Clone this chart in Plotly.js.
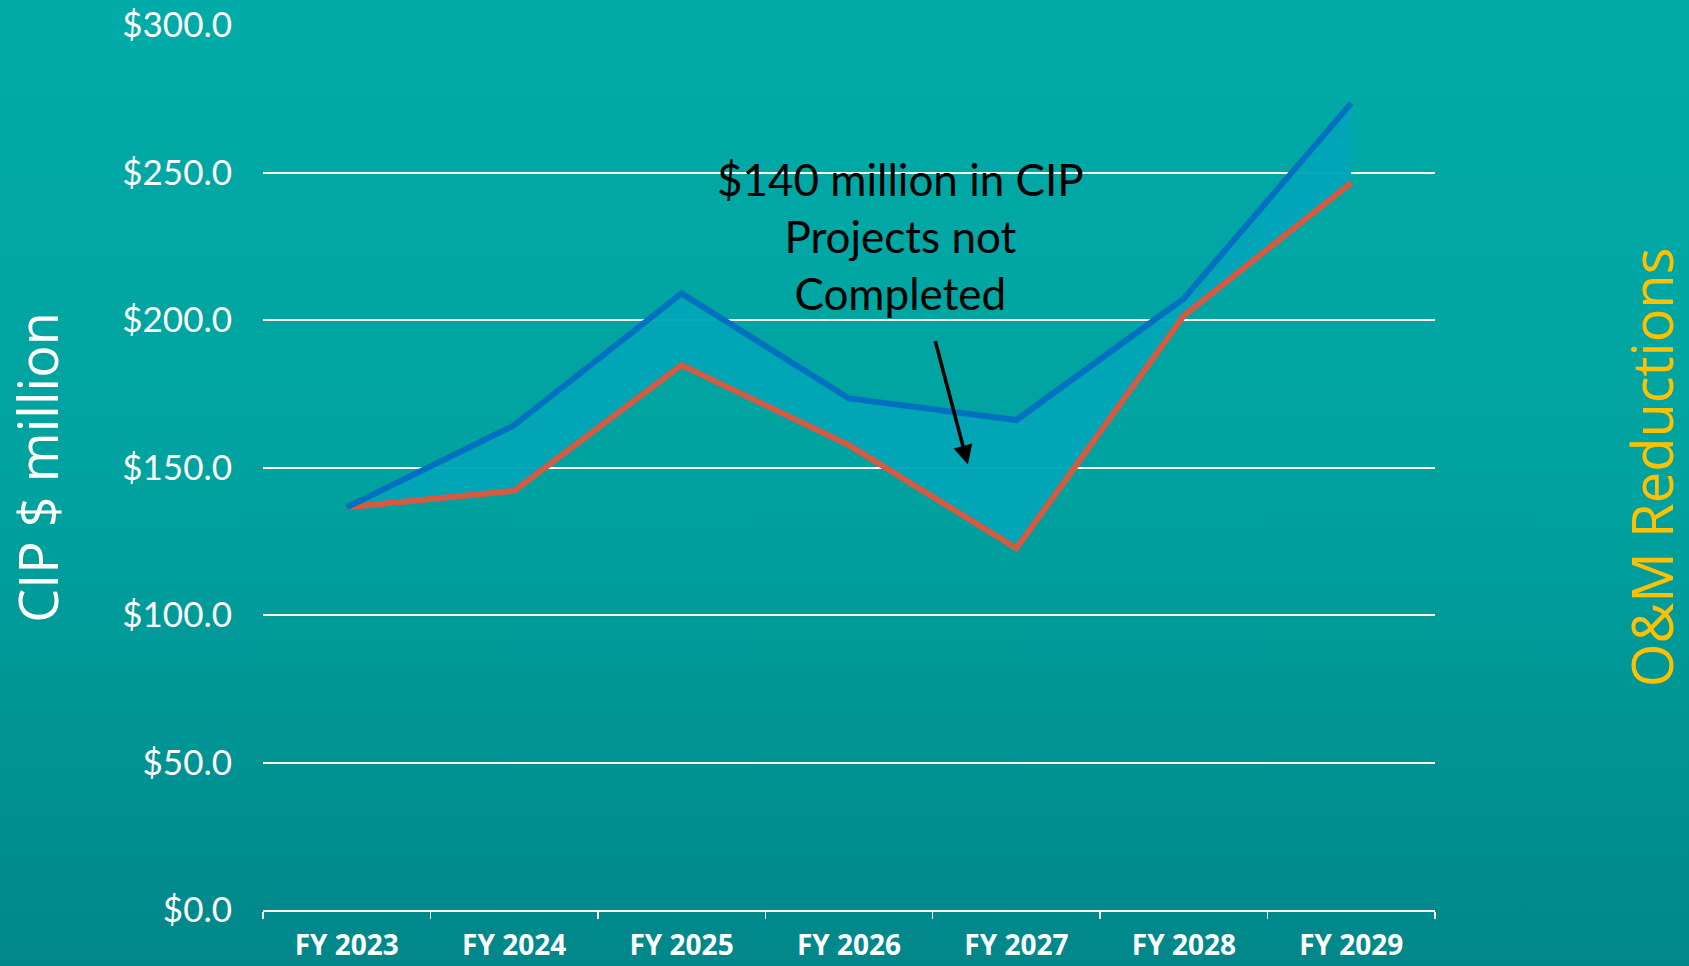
<!DOCTYPE html>
<html>
<head>
<meta charset="utf-8">
<script src="https://cdn.plot.ly/plotly-3.0.1.min.js"></script>
<style>
  html, body { margin: 0; padding: 0; width: 1689px; height: 966px; overflow: hidden; }
  body { background: linear-gradient(to bottom, #00aba8 0%, #00a29f 50%, #00878a 100%); }
  #chart { width: 1689px; height: 966px; }
</style>
</head>
<body>
<div id="chart"></div>
<script>
// Data
const categories = ["FY 2023", "FY 2024", "FY 2025", "FY 2026", "FY 2027", "FY 2028", "FY 2029"];
const plannedCIP = [136.5, 164.3, 209.0, 173.4, 166.1, 207.3, 273.5];   // blue line
const reducedCIP = [136.5, 142.1, 184.7, 157.6, 122.6, 201.5, 246.5];   // red line
const yTickValues = [0, 50, 100, 150, 200, 250, 300];
const yTickLabels = ["$0.0", "$50.0", "$100.0", "$150.0", "$200.0", "$250.0", "$300.0"];
const yTitle = "CIP $ million";
const rightTitle = "O&M Reductions";
const calloutText = "$140 million in CIP<br>Projects not<br>Completed";

const traces = [
  {
    x: categories, y: reducedCIP, type: "scatter", mode: "lines",
    line: { color: "#d45b43", width: 6 },
    hoverinfo: "skip", showlegend: false
  },
  {
    x: categories, y: plannedCIP, type: "scatter", mode: "lines",
    fill: "tonexty", fillcolor: "rgba(0,166,183,0.96)",
    line: { color: "#0070c0", width: 6 },
    hoverinfo: "skip", showlegend: false
  }
];

const layout = {
  width: 1689, height: 966,
  paper_bgcolor: "rgba(0,0,0,0)",
  plot_bgcolor: "rgba(0,0,0,0)",
  margin: { l: 263, r: 254, t: 25, b: 56 },
  showlegend: false,
  xaxis: {
    type: "category",
    range: [-0.5, 6.5],
    tickson: "boundaries",
    ticks: "outside", ticklen: 7, tickwidth: 1.5, tickcolor: "#ffffff",
    showline: true, linecolor: "#ffffff", linewidth: 2,
    showgrid: false, zeroline: false,
    ticklabelstandoff: 9,
    tickfont: { family: "Open Sans, Noto Sans, sans-serif", size: 28, color: "#ffffff", weight: "bold" }
  },
  yaxis: {
    range: [0, 300],
    tickvals: yTickValues, ticktext: yTickLabels,
    showgrid: true, gridcolor: "#ffffff", gridwidth: 2,
    zeroline: false, showline: false, ticks: "",
    ticklabelstandoff: 30,
    tickfont: { family: "Lato, Open Sans, sans-serif", size: 35, color: "#ffffff" },
    title: { text: yTitle, standoff: 47, font: { family: "Open Sans, Lato, sans-serif", size: 54, color: "#ffffff" } }
  },
  annotations: [
    {
      xref: "paper", yref: "paper", x: 0.544, y: 0.7616,
      xanchor: "center", yanchor: "middle",
      text: calloutText, showarrow: false,
      font: { family: "Lato, Open Sans, sans-serif", size: 44, color: "#000000" }
    },
    {
      xref: "x", yref: "y", x: 3.71, y: 151,
      axref: "pixel", ayref: "pixel", ax: -33, ay: -125,
      text: "", showarrow: true, arrowhead: 2, arrowsize: 1.1, arrowwidth: 3.5, arrowcolor: "#000000"
    },
    {
      xref: "paper", yref: "paper", x: 1.184, y: 0.5,
      xanchor: "center", yanchor: "middle",
      text: rightTitle, textangle: -90, showarrow: false,
      font: { family: "Open Sans, Lato, sans-serif", size: 56, color: "#ffc000" }
    }
  ]
};

Plotly.newPlot("chart", traces, layout, { displayModeBar: false, staticPlot: true });
</script>
</body>
</html>
